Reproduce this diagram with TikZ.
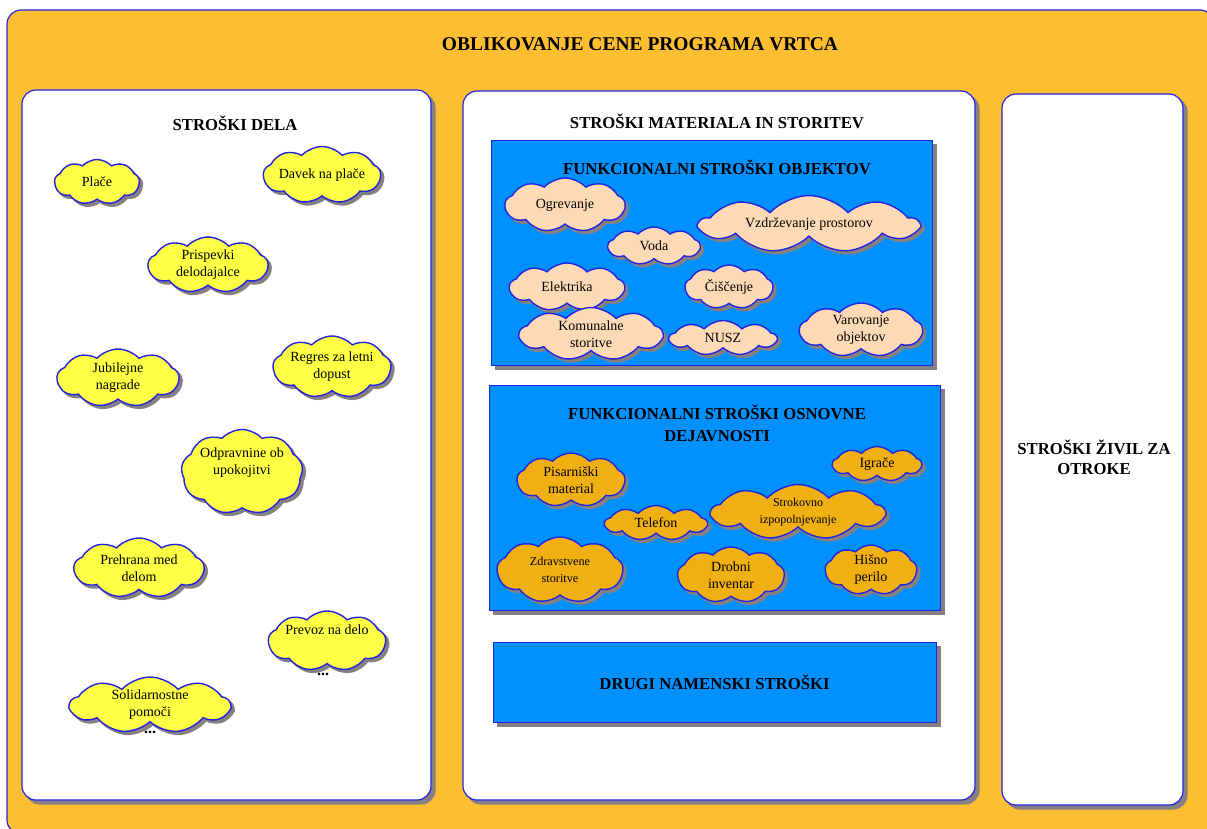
\documentclass[tikz,border=0pt]{standalone}
\usepackage{fontspec}
\setmainfont{Liberation Serif}
\usetikzlibrary{shapes.symbols,shadows,positioning}
\definecolor{vrtec}{RGB}{253,190,50}
\definecolor{rob}{RGB}{35,35,225}
\definecolor{modra}{RGB}{0,145,255}
\definecolor{rumena}{RGB}{255,255,70}
\definecolor{breskev}{RGB}{253,218,182}
\definecolor{oranzna}{RGB}{240,176,18}
\definecolor{senca}{RGB}{135,128,130}

\begin{document}
\begin{tikzpicture}[x=1pt,y=-1pt,
    senco/.style={drop shadow={shadow xshift=4pt,shadow yshift=-4pt,fill=senca,draw=senca,opacity=1}},
    panel/.style={draw=rob,line width=1.2pt,fill=white,rounded corners=14pt,senco,inner sep=0pt},
    skupina/.style={draw=rob,line width=0.8pt,fill=modra,senco,inner sep=0pt},
    naslov/.style={font=\bfseries\fontsize{16.7}{22}\selectfont,align=center},
    oblak/.style={cloud,cloud puffs=9,cloud puff arc=95,cloud ignores aspect,draw=rob,line width=1.4pt,
        drop shadow={shadow xshift=3pt,shadow yshift=-3pt,fill=senca,draw=senca,opacity=1},
        inner sep=0pt,align=center,font=\fontsize{14}{17}\selectfont},
    delo/.style={oblak,fill=rumena},
    objekt/.style={oblak,fill=breskev},
    osnova/.style={oblak,fill=oranzna},
    pike/.style={font=\bfseries\fontsize{16}{16}\selectfont,inner sep=0pt}]
\useasboundingbox (0,0) rectangle (1207,828);

% ozadje
\filldraw[fill=vrtec,draw=rob,line width=1.2pt,rounded corners=14pt] (7,10) rectangle (1214,834);
\node[naslov,font=\bfseries\fontsize{19.5}{22}\selectfont] (glavni) at (640,44) {OBLIKOVANJE CENE PROGRAMA VRTCA};

% tri stolpci
\node[panel,minimum width=409,minimum height=710] (dela) at (226.5,445) {};
\node[panel,minimum width=512,minimum height=709] (mat) at (719,445.5) {};
\node[panel,minimum width=181,minimum height=711] (zivila) at (1092.5,449.5) {};

\node[naslov] (tdela) at (235,123) {STROŠKI DELA};
\node[naslov] (tmat) at (717,121) {STROŠKI MATERIALA IN STORITEV};
\node[naslov,font=\bfseries\fontsize{16.7}{20}\selectfont] (tzivila) at (1094,457) {STROŠKI ŽIVIL ZA\\OTROKE};

% stroski dela
\node[delo,minimum width=85,minimum height=45] (place) at (97,182) {Plače};
\node[delo,minimum width=117,minimum height=57] (davek) at (322,175) {Davek na plače};
\node[delo,minimum width=120,minimum height=56] (prispevki) at (208,265) {Prispevki\\delodajalce};
\node[delo,minimum width=122,minimum height=58] (jubilejne) at (118,378) {Jubilejne\\nagrade};
\node[delo,minimum width=118,minimum height=62] (regres) at (332,367) {Regres za letni\\dopust};
\node[delo,minimum width=118,minimum height=85] (odpravnine) at (242,472) {Odpravnine ob\\upokojitvi\\ \strut};
\node[delo,minimum width=130,minimum height=60] (prehrana) at (139,568) {Prehrana med\\delom};
\node[delo,minimum width=115,minimum height=60] (prevoz) at (327,641) {Prevoz na delo\\ \strut};
\node[delo,minimum width=160,minimum height=56] (solidarnost) at (150,705) {Solidarnostne\\pomoči};
\node[pike] (vec1) at (323,674) {...};
\node[pike] (vec2) at (150,732) {...};

% funkcionalni stroski objektov
\node[skupina,minimum width=441,minimum height=225] (objekti) at (711.5,252.5) {};
\node[naslov] (tobjekti) at (717,167) {FUNKCIONALNI STROŠKI OBJEKTOV};
\node[objekt,minimum width=120,minimum height=54] (ogrevanje) at (565,205) {Ogrevanje};
\node[objekt,minimum width=218,minimum height=57] (vzdrzevanje) at (809,224) {Vzdrževanje prostorov};
\node[objekt,minimum width=92,minimum height=38] (voda) at (654,246) {Voda};
\node[objekt,minimum width=115,minimum height=48] (elektrika) at (567,287) {Elektrika};
\node[objekt,minimum width=88,minimum height=44] (ciscenje) at (729,287) {Čiščenje};
\node[objekt,minimum width=143,minimum height=53] (komunalne) at (591,334) {Komunalne\\storitve};
\node[objekt,minimum width=107,minimum height=35] (nusz) at (723,338) {NUSZ};
\node[objekt,minimum width=123,minimum height=54] (varovanje) at (861,330) {Varovanje\\objektov};

% funkcionalni stroski osnovne dejavnosti
\node[skupina,minimum width=451,minimum height=225] (dejavnost) at (714.5,497.5) {};
\node[naslov] (tdejavnost) at (717,423) {FUNKCIONALNI STROŠKI OSNOVNE\\DEJAVNOSTI};
\node[osnova,minimum width=108,minimum height=54] (pisarniski) at (571,480) {Pisarniški\\material};
\node[osnova,minimum width=89,minimum height=35] (igrace) at (877,464) {Igrače};
\node[osnova,minimum width=173,minimum height=55,font=\fontsize{12}{17}\selectfont] (strokovno) at (798,512) {Strokovno\\izpopolnjevanje};
\node[osnova,minimum width=102,minimum height=35] (telefon) at (656,523) {Telefon};
\node[osnova,minimum width=126,minimum height=66,font=\fontsize{12.2}{17}\selectfont] (zdravstvene) at (560,570) {Zdravstvene\\storitve};
\node[osnova,minimum width=107,minimum height=56] (drobni) at (731,575) {Drobni\\inventar};
\node[osnova,minimum width=92,minimum height=50] (perilo) at (871,570) {Hišno\\perilo};

% drugi stroski
\node[skupina,minimum width=443,minimum height=80,naslov] (drugi) at (714.5,682) {DRUGI NAMENSKI STROŠKI};
\end{tikzpicture}
\end{document}
